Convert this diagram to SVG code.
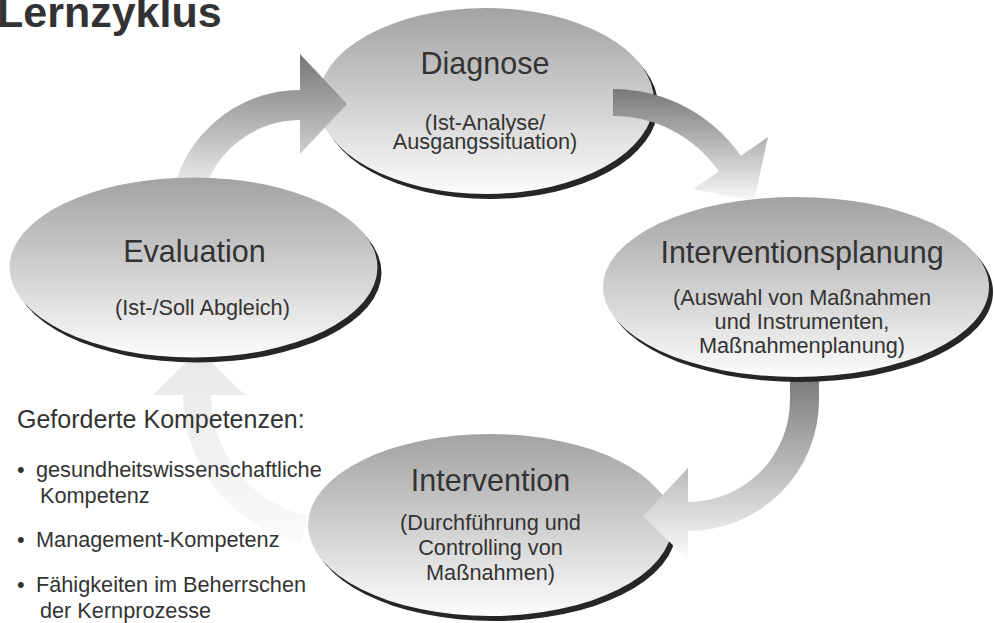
<svg xmlns="http://www.w3.org/2000/svg" width="994" height="623" viewBox="0 0 994 623">
  <defs>
    <linearGradient id="nodeFill" x1="0" y1="0" x2="0" y2="1">
      <stop offset="0" stop-color="#a2a2a2"/>
      <stop offset="1" stop-color="#fcfcfc"/>
    </linearGradient>
    <linearGradient id="arrow1Fill" gradientUnits="userSpaceOnUse" x1="0" y1="54" x2="0" y2="190">
      <stop offset="0" stop-color="#767676"/>
      <stop offset="1" stop-color="#f0f0f0"/>
    </linearGradient>
    <linearGradient id="arrow2Fill" gradientUnits="userSpaceOnUse" x1="0" y1="89" x2="0" y2="202">
      <stop offset="0" stop-color="#787878"/>
      <stop offset="1" stop-color="#fafafa"/>
    </linearGradient>
    <linearGradient id="arrow3Fill" gradientUnits="userSpaceOnUse" x1="0" y1="380" x2="0" y2="560">
      <stop offset="0" stop-color="#7c7c7c"/>
      <stop offset="1" stop-color="#fcfcfc"/>
    </linearGradient>
    <linearGradient id="arrow4Fill" gradientUnits="userSpaceOnUse" x1="0" y1="350" x2="0" y2="545">
      <stop offset="0" stop-color="#e8e8e8"/>
      <stop offset="1" stop-color="#fafafa"/>
    </linearGradient>
  </defs>
  <style>
    text { font-family: "Liberation Sans", Arial, Helvetica, sans-serif; fill: #333333; }
    .node-shadow { fill: #262626; }
    .node-body { fill: url(#nodeFill); }
    .head { font-size: 30.5px; text-anchor: middle; }
    .sub { font-size: 21.7px; text-anchor: middle; }
    .title { font-size: 43px; font-weight: bold; }
    .list { font-size: 21.7px; }
  </style>

  <!-- page title -->
  <text class="title" x="-3" y="27">Lernzyklus</text>

  <!-- cycle stages (lower layer) -->
  <g id="diagnose">
    <ellipse class="node-shadow" cx="490" cy="106" rx="168" ry="93"/>
    <ellipse class="node-body" cx="486" cy="101" rx="168" ry="93"/>
    <text class="head" x="485" y="74">Diagnose</text>
    <text class="sub" x="485" y="130">(Ist-Analyse/</text>
    <text class="sub" x="485" y="149">Ausgangssituation)</text>
  </g>

  <g id="intervention">
    <ellipse class="node-shadow" cx="494" cy="530" rx="182" ry="91"/>
    <ellipse class="node-body" cx="490" cy="525" rx="182" ry="91"/>
    <text class="head" x="490.5" y="490.5">Intervention</text>
    <text class="sub" x="490.5" y="530">(Durchführung und</text>
    <text class="sub" x="490.5" y="555">Controlling von</text>
    <text class="sub" x="490.5" y="580">Maßnahmen)</text>
  </g>

  <!-- curved cycle arrows -->
  <g id="connectors">
    <!-- Evaluation -> Diagnose -->
    <path fill="url(#arrow1Fill)" d="M171.6,199.7 A130,130 0 0 1 300,90 L300,54 L347,104 L300,154 L300,120 A100,100 0 0 0 201.2,204.4 Z"/>
    <!-- Diagnose -> Interventionsplanung -->
    <path fill="url(#arrow2Fill)" d="M613,89 A156,156 0 0 1 740.9,155.8 L768,136.9 L754,201 L693.4,188.9 L718.8,171.2 A129,129 0 0 0 613,116 Z"/>
    <!-- Interventionsplanung -> Intervention -->
    <path fill="url(#arrow3Fill)" d="M819,368 L819,400 A131,131 0 0 1 688,531 L688,560 L643,516 L688,468 L688,502 A102,102 0 0 0 790,400 L790,368 Z"/>
    <!-- Intervention -> Evaluation -->
    <path fill="url(#arrow4Fill)" d="M300.8,543.1 A152,152 0 0 1 183,395 L153,395 L199,350 L245,395 L211,395 A124,124 0 0 0 307.1,515.8 Z"/>
  </g>

  <!-- cycle stages (upper layer) -->
  <g id="interventionsplanung">
    <ellipse class="node-shadow" cx="800" cy="292" rx="193" ry="90"/>
    <ellipse class="node-body" cx="796" cy="287" rx="193" ry="90"/>
    <text class="head" x="802" y="263">Interventionsplanung</text>
    <text class="sub" x="802" y="305">(Auswahl von Maßnahmen</text>
    <text class="sub" x="802" y="329">und Instrumenten,</text>
    <text class="sub" x="802" y="353">Maßnahmenplanung)</text>
  </g>

  <g id="evaluation">
    <ellipse class="node-shadow" cx="197.5" cy="272.5" rx="184" ry="90"/>
    <ellipse class="node-body" cx="193.5" cy="267.5" rx="184" ry="90"/>
    <text class="head" x="194.5" y="262">Evaluation</text>
    <text class="sub" x="202.5" y="315">(Ist-/Soll Abgleich)</text>
  </g>

  <!-- required competences -->
  <g id="kompetenzen">
    <text x="17" y="428" style="font-size:25px">Geforderte Kompetenzen:</text>
    <text class="list" x="17" y="477">•</text>
    <text class="list" x="36" y="477">gesundheitswissenschaftliche</text>
    <text class="list" x="40" y="503">Kompetenz</text>
    <text class="list" x="17" y="547">•</text>
    <text class="list" x="36" y="547">Management-Kompetenz</text>
    <text class="list" x="17" y="592">•</text>
    <text class="list" x="36" y="592">Fähigkeiten im Beherrschen</text>
    <text class="list" x="40" y="618">der Kernprozesse</text>
  </g>
</svg>
